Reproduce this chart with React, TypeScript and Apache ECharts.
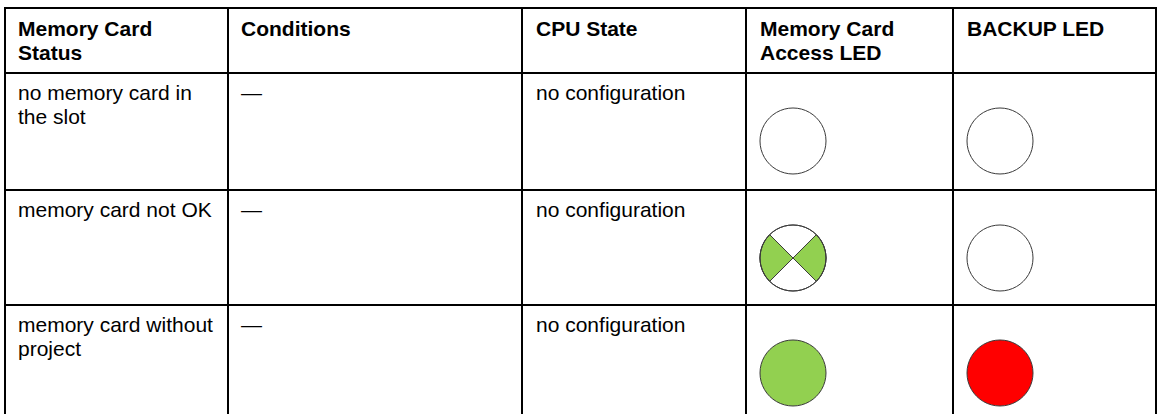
import React, { useEffect, useRef } from "react";
import * as echarts from "echarts";

const headers = ["Memory Card\nStatus", "Conditions", "CPU State", "Memory Card\nAccess LED", "BACKUP LED"];
const memoryCardStatus = ["no memory card in\nthe slot", "memory card not OK", "memory card without\nproject"];
const conditions = ["—", "—", "—"];
const cpuState = ["no configuration", "no configuration", "no configuration"];
const accessLed = ["off", "flashing", "on"];
const backupLed = ["off", "off", "on"];

const colX = [5, 228, 522, 746, 953, 1156];
const rowY = [8, 73, 190, 305, 430];
const FONT = '"Liberation Sans", Arial, sans-serif';
const FS = 21;
const LH = 24;
const GREEN = "#92D050";
const RED = "#FF0000";
const STROKE = "#3a3a3a";

function ledGraphics(state: string, onColor: string, cx: number, cy: number, r: number) {
  const els: any[] = [];
  if (state === "flashing") {
    els.push({ type: "circle", shape: { cx, cy, r }, style: { fill: "#fff", stroke: STROKE, lineWidth: 1 } });
    els.push({
      type: "sector",
      shape: { cx, cy, r0: 0, r, startAngle: -Math.PI / 4, endAngle: Math.PI / 4 },
      style: { fill: onColor, stroke: STROKE, lineWidth: 1 },
    });
    els.push({
      type: "sector",
      shape: { cx, cy, r0: 0, r, startAngle: (3 * Math.PI) / 4, endAngle: (5 * Math.PI) / 4 },
      style: { fill: onColor, stroke: STROKE, lineWidth: 1 },
    });
    els.push({ type: "circle", shape: { cx, cy, r }, style: { fill: "none", stroke: STROKE, lineWidth: 1 } });
  } else {
    els.push({
      type: "circle",
      shape: { cx, cy, r },
      style: { fill: state === "on" ? onColor : "#fff", stroke: STROKE, lineWidth: 1 },
    });
  }
  return els;
}

export default function App() {
  const ref = useRef<HTMLDivElement>(null);
  useEffect(() => {
    if (!ref.current) return;
    const chart = echarts.init(ref.current, null, { renderer: "svg" });
    const g: any[] = [];
    for (let i = 0; i < 4; i++) {
      g.push({ type: "line", shape: { x1: colX[0] - 1, y1: rowY[i], x2: colX[5] + 1, y2: rowY[i] }, style: { stroke: "#000", lineWidth: 2 } });
    }
    for (let j = 0; j < colX.length; j++) {
      g.push({ type: "line", shape: { x1: colX[j], y1: rowY[0] - 1, x2: colX[j], y2: rowY[4] }, style: { stroke: "#000", lineWidth: 2 } });
    }
    const textX = [18, 241, 536, 760, 967];
    headers.forEach((h, j) => {
      g.push({
        type: "text",
        x: textX[j],
        y: rowY[0] + 8.7,
        style: { text: h, fill: "#000", font: `bold ${FS}px ${FONT}`, lineHeight: LH, verticalAlign: "top", align: "left" },
      });
    });
    const rowCols = [memoryCardStatus, conditions, cpuState];
    for (let i = 0; i < 3; i++) {
      rowCols.forEach((col, j) => {
        g.push({
          type: "text",
          x: textX[j],
          y: rowY[i + 1] + 7.7,
          style: { text: col[i], fill: "#000", font: `${FS}px ${FONT}`, lineHeight: LH, verticalAlign: "top", align: "left" },
        });
      });
      const cy = rowY[i + 1] + 68;
      g.push(...ledGraphics(accessLed[i], GREEN, 793, cy, 33));
      g.push(...ledGraphics(backupLed[i], RED, 1000, cy, 33));
    }
    chart.setOption({ animation: false, backgroundColor: "#fff", graphic: { elements: g } });
    return () => chart.dispose();
  }, []);
  return <div ref={ref} style={{ position: "fixed", left: 0, top: 0, width: 1160, height: 414 }} />;
}
